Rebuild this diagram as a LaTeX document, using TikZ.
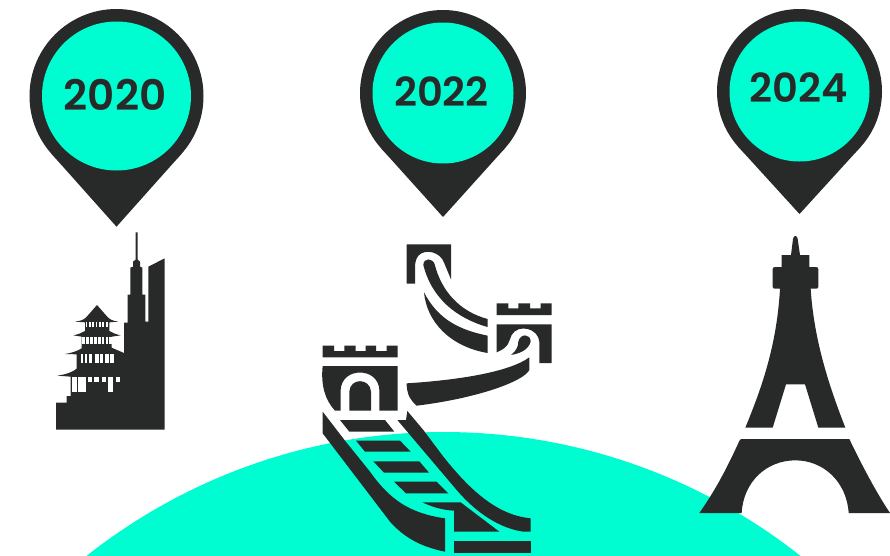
\documentclass[tikz,border=0pt]{standalone}
\usepackage{fontspec}
\newfontfamily\yearfont{Poppins SemiBold}
\definecolor{inkc}{HTML}{272A29}
\definecolor{mint}{HTML}{00FDD2}
\tikzset{
  ink/.style={fill=inkc,draw=none},
  hole/.style={fill=white,draw=none},
  yearlabel/.style={text=inkc,font=\yearfont\fontsize{42}{42}\selectfont,inner sep=0pt},
  zoomed/.style={shift={#1},scale=0.33333}
}
\newcommand{\placepin}[5]{% cx cy R r tipy
  \pgfmathsetmacro{\dd}{#5-#2}
  \pgfmathsetmacro{\aa}{acos(#3/\dd)}
  \fill[inkc] (#1+#3*sin \aa,#2+#3*cos \aa) -- (#1,#5) -- (#1-#3*sin \aa,#2+#3*cos \aa) -- cycle;
  \fill[inkc] (#1,#2) circle[radius=#3];
  \fill[mint] (#1,#2) circle[radius=#4];
}
\begin{document}
\begin{tikzpicture}[x=1pt,y=-1pt]
\useasboundingbox (0,0) rectangle (890,555);
\begin{scope}
\clip (0,0) rectangle (890,555);
\fill[mint] (443.5,1008) circle[radius=576];
\end{scope}
% pins
\placepin{116.5}{96}{87}{74.5}{226.7}
\placepin{443}{93}{83}{70.5}{217}
\placepin{799.5}{91.5}{82.5}{70}{214}
\node[yearlabel] (y2020) at (115,95) {2020};
\node[yearlabel,font=\yearfont\fontsize{40}{40}\selectfont] (y2022) at (441.5,92) {2022};
\node[yearlabel,font=\yearfont\fontsize{40}{40}\selectfont] (y2024) at (798.5,88) {2024};
% skyline
\begin{scope}[zoomed={(40,225)}]
\fill[ink] (48,614) -- (48,533) -- (80,533) -- (80,513) -- (92,513) -- (92,455) -- (52,452)
  .. controls (80,448) and (100,440) .. (110,431) -- (110,388) -- (75,387)
  .. controls (95,384) and (112,378) .. (125,370) -- (125,335) -- (100,331)
  .. controls (115,328) and (125,324) .. (135,318) -- (135,292) -- (105,290)
  .. controls (125,288) and (135,282) .. (142,273) -- (171,240) -- (200,273)
  .. controls (207,282) and (217,288) .. (235,290) -- (208,292) -- (208,318)
  .. controls (218,324) and (228,328) .. (242,331) -- (215,335) -- (215,368) -- (252,384)
  -- (252,293) -- (263,293) -- (263,209) -- (271,209) -- (271,128) -- (279,125) -- (279,110)
  -- (287,104) -- (287,22) -- (293,22) -- (293,104) -- (300,110) -- (300,125) -- (307,128)
  -- (307,209) -- (316,209) -- (316,290) -- (325,290) -- (325,125) -- (374,100) -- (374,614) -- cycle;
\foreach \a/\b in {137/142,147/152,157/162,167/172,177/182,187/192,197/204}
  \fill[hole] (\a,292) rectangle (\b,306);
\foreach \a/\b in {127/135,139/147,151/159,163/171,175/183,187/193,197/203,206/215}
  \fill[hole] (\a,336) rectangle (\b,357);
\foreach \a/\b in {122/130,134/142,146/156,166/176,180/190,196/207,211/221}
  \fill[hole] (\a,387) rectangle (\b,414);
\foreach \a/\b in {97/110,115/137,205/218}
  \fill[hole] (\a,456) rectangle (\b,500);
\foreach \a/\b in {143/155,163/176,185/197,228/241}
  \fill[hole] (\a,456) rectangle (\b,472);
\end{scope}
% great wall
\begin{scope}[zoomed={(310,235)}]
\fill[ink] (290,28) -- (423,28) -- (423,133) -- (403,85)
  .. controls (392,50) and (345,40) .. (325,62) .. controls (315,75) and (315,90) .. (315,100)
  -- (315,146) -- (290,146) -- cycle;
\fill[ink] (340,90) .. controls (340,68) and (368,68) .. (374,88)
  .. controls (395,170) and (450,230) .. (533,252) -- (533,276)
  .. controls (440,250) and (365,190) .. (340,90) -- cycle;
\fill[ink] (342,172) .. controls (385,255) and (450,285) .. (533,302) -- (533,354)
  .. controls (420,335) and (350,260) .. (342,172) -- cycle;
% right tower
\fill[ink] (560,205) -- (595,205) -- (595,220) -- (625,220) -- (625,205) -- (660,205) -- (660,220)
  -- (692,220) -- (692,205) -- (725,205) -- (725,240) -- (560,240) -- cycle;
\fill[ink] (560,268) -- (725,268) -- (725,384) -- (688,384) -- (688,320)
  .. controls (685,280) and (625,265) .. (605,300) .. controls (595,320) and (600,335) .. (560,352) -- cycle;
\fill[ink] (603,360) .. controls (618,348) and (625,335) .. (625,320)
  .. controls (630,295) and (662,295) .. (662,320) .. controls (655,345) and (630,355) .. (603,360) -- cycle;
\fill[ink] (290,445) .. controls (450,435) and (600,410) .. (658,367) -- (658,405)
  .. controls (640,440) and (500,490) .. (320,512) .. controls (295,490) and (290,470) .. (290,445) -- cycle;
% left tower
\fill[ink] (38,332) -- (72,332) -- (72,348) -- (103,348) -- (103,332) -- (137,332) -- (137,348)
  -- (167,348) -- (167,332) -- (198,332) -- (198,348) -- (230,348) -- (230,332) -- (263,332)
  -- (263,367) -- (38,367) -- cycle;
\fill[ink] (38,393) -- (263,393) -- (263,527) -- (208,527) -- (208,465)
  .. controls (205,395) and (95,395) .. (92,465) -- (92,527) -- (75,527)
  .. controls (45,495) and (32,450) .. (38,393) -- cycle;
\fill[ink] (118,527) -- (118,470) .. controls (120,428) and (180,428) .. (183,470) -- (183,527) -- cycle;
\end{scope}
\begin{scope}[zoomed={(310,400)}]
\fill[ink] (38,35) -- (105,122) -- (180,215) .. controls (240,300) and (300,340) .. (405,355)
  -- (405,455) .. controls (330,440) and (280,410) .. (240,365) -- (38,100) -- cycle;
\fill[ink] (292,33) -- (340,90) -- (400,170) .. controls (480,270) and (560,345) .. (662,355)
  -- (662,395) -- (640,395) .. controls (570,385) and (500,340) .. (440,270) -- (262,60) -- (288,60) -- cycle;
\fill[ink] (90,60) -- (225,60) -- (253,95) -- (118,95) -- cycle;
\fill[ink] (138,122) -- (270,122) -- (302,155) -- (165,155) -- cycle;
\fill[ink] (190,184) -- (328,184) -- (357,218) -- (222,218) -- cycle;
\fill[ink] (252,245) -- (380,245) -- (415,280) -- (288,280) -- cycle;
\fill[ink] (337,307) -- (452,307) -- (568,395) -- (432,395) -- (432,332)
  .. controls (395,330) and (365,320) .. (337,307) -- cycle;
\fill[ink] (432,423) rectangle (662,460);
\end{scope}
% eiffel
\begin{scope}[zoomed={(690,225)}]
\fill[ink] (316,33) .. controls (320,33) and (322,36) .. (323,42) -- (330,90) -- (358,90) -- (358,126) -- (378,126)
  .. controls (383,126) and (385,129) .. (385,133) -- (385,185) .. controls (385,189) and (383,191) .. (378,191) -- (362,191)
  .. controls (372,350) and (420,490) .. (466,608) -- (385,608) -- (345,478) -- (288,478) -- (248,608) -- (166,608)
  .. controls (210,500) and (260,370) .. (270,191) -- (255,191)
  .. controls (250,191) and (248,189) .. (248,185) -- (248,133) .. controls (248,129) and (250,126) .. (255,126)
  -- (275,126) -- (275,90) -- (303,90) -- (309,42) .. controls (310,36) and (312,33) .. (316,33) -- cycle;
\fill[ink] (155,642) -- (478,642) .. controls (510,710) and (560,805) .. (600,864) -- (476,864)
  .. controls (470,770) and (400,706) .. (316,706) .. controls (230,706) and (160,770) .. (155,864)
  -- (28,864) .. controls (80,790) and (115,720) .. (147,650) .. controls (149,645) and (151,642) .. (155,642) -- cycle;
\end{scope}
\end{tikzpicture}
\end{document}
